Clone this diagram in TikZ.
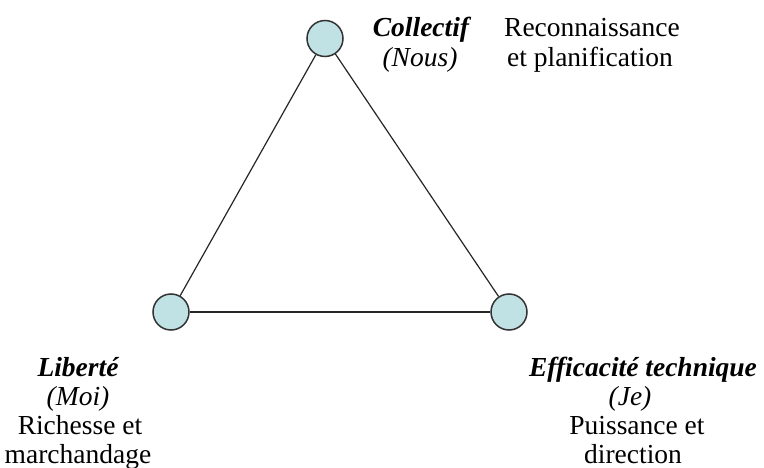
\documentclass[tikz,border=0pt]{standalone}
\usepackage{fontspec}
\setmainfont{Liberation Serif}
\definecolor{nodefill}{HTML}{C0E2E5}
\definecolor{nodeline}{HTML}{333333}
\begin{document}
\begin{tikzpicture}[x=1pt,y=-1pt,
  vertex/.style={circle,draw=nodeline,fill=nodefill,line width=1.5pt,minimum size=36pt,inner sep=0pt},
  edge/.style={draw=black!85,line width=1.2pt},
  lbl/.style={anchor=base,inner sep=0pt,font=\fontsize{27.5}{30}\selectfont},
  title/.style={lbl,font=\fontsize{27.5}{30}\selectfont\bfseries\itshape},
  who/.style={lbl,font=\fontsize{27.5}{30}\selectfont\itshape}]
\useasboundingbox (0,0) rectangle (764,468);
\fill[white] (0,0) rectangle (764,468);
\node[vertex] (top) at (325,38.5) {};
\node[vertex] (left) at (171,312) {};
\node[vertex] (right) at (509,312) {};
\draw[edge] (top) -- (left);
\draw[edge] (top) -- (right);
\draw[edge] (left) -- (right);
% top labels
\node[title] (t1) at (421,37) {Collectif};
\node[who] (t2) at (420,67) {(Nous)};
\node[lbl] (t3) at (592,37) {Reconnaissance};
\node[lbl] (t4) at (590,67) {et planification};
% left labels
\node[title] (l1) at (78,376) {Libert\'e};
\node[who] (l2) at (78,405) {(Moi)};
\node[lbl] (l3) at (80,434) {Richesse et};
\node[lbl] (l4) at (78,463) {marchandage};
% right labels
\node[title] (r1) at (643,376) {Efficacit\'e technique};
\node[who] (r2) at (630,405) {(Je)};
\node[lbl] (r3) at (637,434) {Puissance et};
\node[lbl] (r4) at (633,463) {direction};
\end{tikzpicture}
\end{document}
